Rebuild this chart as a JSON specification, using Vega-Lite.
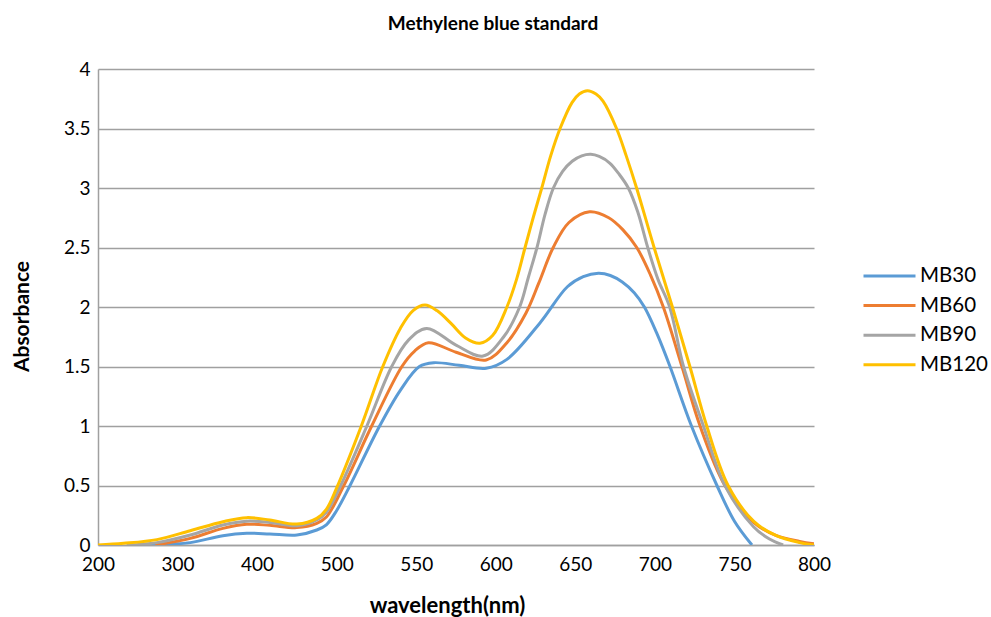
{
  "$schema": "https://vega.github.io/schema/vega-lite/v6.json",
  "width": 716,
  "height": 476,
  "autosize": {"type": "none"},
  "padding": {"left": 98, "top": 69, "right": 177, "bottom": 72},
  "background": "white",
  "config": {"font": "Lato", "view": {"stroke": null}},
  "title": {"text": "Methylene blue standard", "font": "Lato", "fontSize": 19, "fontWeight": "bold", "color": "#000000", "anchor": "middle", "dx": 37, "offset": 17, "baseline": "middle"},
  "data": {"values": [
    {"series":"MB30","wavelength":261,"absorbance":0},
    {"series":"MB30","wavelength":290,"absorbance":0.008},
    {"series":"MB30","wavelength":316,"absorbance":0.02},
    {"series":"MB30","wavelength":357,"absorbance":0.078},
    {"series":"MB30","wavelength":387,"absorbance":0.098},
    {"series":"MB30","wavelength":416,"absorbance":0.093},
    {"series":"MB30","wavelength":450,"absorbance":0.084},
    {"series":"MB30","wavelength":475,"absorbance":0.126},
    {"series":"MB30","wavelength":487,"absorbance":0.17},
    {"series":"MB30","wavelength":500,"absorbance":0.29},
    {"series":"MB30","wavelength":508.4,"absorbance":0.5},
    {"series":"MB30","wavelength":527,"absorbance":1.0},
    {"series":"MB30","wavelength":540,"absorbance":1.3},
    {"series":"MB30","wavelength":552,"absorbance":1.5},
    {"series":"MB30","wavelength":561,"absorbance":1.532},
    {"series":"MB30","wavelength":577,"absorbance":1.51},
    {"series":"MB30","wavelength":594,"absorbance":1.485},
    {"series":"MB30","wavelength":607,"absorbance":1.56},
    {"series":"MB30","wavelength":628,"absorbance":1.87},
    {"series":"MB30","wavelength":645,"absorbance":2.17},
    {"series":"MB30","wavelength":655,"absorbance":2.255},
    {"series":"MB30","wavelength":664.5,"absorbance":2.283},
    {"series":"MB30","wavelength":672,"absorbance":2.265},
    {"series":"MB30","wavelength":679.5,"absorbance":2.21},
    {"series":"MB30","wavelength":687,"absorbance":2.12},
    {"series":"MB30","wavelength":693.4,"absorbance":2.0},
    {"series":"MB30","wavelength":701.5,"absorbance":1.77},
    {"series":"MB30","wavelength":709.5,"absorbance":1.5},
    {"series":"MB30","wavelength":723,"absorbance":1.0},
    {"series":"MB30","wavelength":739,"absorbance":0.5},
    {"series":"MB30","wavelength":750,"absorbance":0.2},
    {"series":"MB30","wavelength":761,"absorbance":0},
    {"series":"MB60","wavelength":272,"absorbance":0},
    {"series":"MB60","wavelength":316,"absorbance":0.056},
    {"series":"MB60","wavelength":357,"absorbance":0.14},
    {"series":"MB60","wavelength":387,"absorbance":0.174},
    {"series":"MB60","wavelength":416,"absorbance":0.165},
    {"series":"MB60","wavelength":450,"absorbance":0.146},
    {"series":"MB60","wavelength":475,"absorbance":0.182},
    {"series":"MB60","wavelength":487,"absorbance":0.235},
    {"series":"MB60","wavelength":504.5,"absorbance":0.5},
    {"series":"MB60","wavelength":522,"absorbance":1.0},
    {"series":"MB60","wavelength":541,"absorbance":1.5},
    {"series":"MB60","wavelength":549,"absorbance":1.63},
    {"series":"MB60","wavelength":557.6,"absorbance":1.7},
    {"series":"MB60","wavelength":575,"absorbance":1.62},
    {"series":"MB60","wavelength":594,"absorbance":1.555},
    {"series":"MB60","wavelength":607,"absorbance":1.7},
    {"series":"MB60","wavelength":619,"absorbance":1.95},
    {"series":"MB60","wavelength":627,"absorbance":2.2},
    {"series":"MB60","wavelength":636.1,"absorbance":2.5},
    {"series":"MB60","wavelength":646,"absorbance":2.71},
    {"series":"MB60","wavelength":659,"absorbance":2.8},
    {"series":"MB60","wavelength":671,"absorbance":2.75},
    {"series":"MB60","wavelength":679.8,"absorbance":2.65},
    {"series":"MB60","wavelength":688.6,"absorbance":2.5},
    {"series":"MB60","wavelength":697.2,"absorbance":2.27},
    {"series":"MB60","wavelength":705.3,"absorbance":2.0},
    {"series":"MB60","wavelength":717,"absorbance":1.5},
    {"series":"MB60","wavelength":728.4,"absorbance":1.0},
    {"series":"MB60","wavelength":744,"absorbance":0.5},
    {"series":"MB60","wavelength":762,"absorbance":0.19},
    {"series":"MB60","wavelength":776,"absorbance":0.08},
    {"series":"MB60","wavelength":791,"absorbance":0.03},
    {"series":"MB60","wavelength":800,"absorbance":0.01},
    {"series":"MB90","wavelength":236,"absorbance":0},
    {"series":"MB90","wavelength":274,"absorbance":0.02},
    {"series":"MB90","wavelength":316,"absorbance":0.084},
    {"series":"MB90","wavelength":357,"absorbance":0.168},
    {"series":"MB90","wavelength":387,"absorbance":0.2},
    {"series":"MB90","wavelength":416,"absorbance":0.19},
    {"series":"MB90","wavelength":450,"absorbance":0.162},
    {"series":"MB90","wavelength":475,"absorbance":0.21},
    {"series":"MB90","wavelength":487,"absorbance":0.275},
    {"series":"MB90","wavelength":502.5,"absorbance":0.5},
    {"series":"MB90","wavelength":519,"absorbance":1.0},
    {"series":"MB90","wavelength":534.6,"absorbance":1.5},
    {"series":"MB90","wavelength":545,"absorbance":1.72},
    {"series":"MB90","wavelength":556.6,"absorbance":1.82},
    {"series":"MB90","wavelength":575,"absorbance":1.68},
    {"series":"MB90","wavelength":592,"absorbance":1.588},
    {"series":"MB90","wavelength":605,"absorbance":1.75},
    {"series":"MB90","wavelength":615,"absorbance":2.0},
    {"series":"MB90","wavelength":620.5,"absorbance":2.25},
    {"series":"MB90","wavelength":625.9,"absorbance":2.5},
    {"series":"MB90","wavelength":631,"absorbance":2.78},
    {"series":"MB90","wavelength":636.2,"absorbance":3.0},
    {"series":"MB90","wavelength":642,"absorbance":3.14},
    {"series":"MB90","wavelength":648,"absorbance":3.225},
    {"series":"MB90","wavelength":654,"absorbance":3.27},
    {"series":"MB90","wavelength":659.7,"absorbance":3.283},
    {"series":"MB90","wavelength":665,"absorbance":3.265},
    {"series":"MB90","wavelength":671.6,"absorbance":3.21},
    {"series":"MB90","wavelength":677.3,"absorbance":3.12},
    {"series":"MB90","wavelength":683.3,"absorbance":3.0},
    {"series":"MB90","wavelength":689.2,"absorbance":2.8},
    {"series":"MB90","wavelength":695.5,"absorbance":2.5},
    {"series":"MB90","wavelength":702,"absorbance":2.23},
    {"series":"MB90","wavelength":709.3,"absorbance":2.0},
    {"series":"MB90","wavelength":718,"absorbance":1.5},
    {"series":"MB90","wavelength":730.5,"absorbance":1.0},
    {"series":"MB90","wavelength":744,"absorbance":0.5},
    {"series":"MB90","wavelength":762,"absorbance":0.154},
    {"series":"MB90","wavelength":772,"absorbance":0.05},
    {"series":"MB90","wavelength":780.6,"absorbance":0},
    {"series":"MB120","wavelength":200,"absorbance":0},
    {"series":"MB120","wavelength":232,"absorbance":0.014},
    {"series":"MB120","wavelength":274,"absorbance":0.045},
    {"series":"MB120","wavelength":316,"absorbance":0.12},
    {"series":"MB120","wavelength":357,"absorbance":0.196},
    {"series":"MB120","wavelength":387,"absorbance":0.23},
    {"series":"MB120","wavelength":416,"absorbance":0.21},
    {"series":"MB120","wavelength":450,"absorbance":0.176},
    {"series":"MB120","wavelength":475,"absorbance":0.224},
    {"series":"MB120","wavelength":487,"absorbance":0.3},
    {"series":"MB120","wavelength":500,"absorbance":0.48},
    {"series":"MB120","wavelength":515.5,"absorbance":1.0},
    {"series":"MB120","wavelength":529,"absorbance":1.5},
    {"series":"MB120","wavelength":540,"absorbance":1.82},
    {"series":"MB120","wavelength":548,"absorbance":1.97},
    {"series":"MB120","wavelength":555.5,"absorbance":2.017},
    {"series":"MB120","wavelength":563,"absorbance":1.97},
    {"series":"MB120","wavelength":572,"absorbance":1.86},
    {"series":"MB120","wavelength":581,"absorbance":1.74},
    {"series":"MB120","wavelength":590,"absorbance":1.695},
    {"series":"MB120","wavelength":598,"absorbance":1.76},
    {"series":"MB120","wavelength":607,"absorbance":2.0},
    {"series":"MB120","wavelength":613,"absorbance":2.23},
    {"series":"MB120","wavelength":618.4,"absorbance":2.5},
    {"series":"MB120","wavelength":623.5,"absorbance":2.75},
    {"series":"MB120","wavelength":628.9,"absorbance":3.0},
    {"series":"MB120","wavelength":634.5,"absorbance":3.27},
    {"series":"MB120","wavelength":640.4,"absorbance":3.5},
    {"series":"MB120","wavelength":648,"absorbance":3.72},
    {"series":"MB120","wavelength":652.5,"absorbance":3.79},
    {"series":"MB120","wavelength":657.6,"absorbance":3.818},
    {"series":"MB120","wavelength":663,"absorbance":3.79},
    {"series":"MB120","wavelength":667.4,"absorbance":3.73},
    {"series":"MB120","wavelength":675.9,"absorbance":3.5},
    {"series":"MB120","wavelength":682,"absorbance":3.27},
    {"series":"MB120","wavelength":688.5,"absorbance":3.0},
    {"series":"MB120","wavelength":699.5,"absorbance":2.5},
    {"series":"MB120","wavelength":711,"absorbance":2.0},
    {"series":"MB120","wavelength":722,"absorbance":1.5},
    {"series":"MB120","wavelength":732.6,"absorbance":1.0},
    {"series":"MB120","wavelength":746,"absorbance":0.5},
    {"series":"MB120","wavelength":762,"absorbance":0.2},
    {"series":"MB120","wavelength":776,"absorbance":0.08},
    {"series":"MB120","wavelength":791,"absorbance":0.02},
    {"series":"MB120","wavelength":800,"absorbance":0}
  ]},
  "mark": {"type": "line", "interpolate": "catmull-rom", "strokeWidth": 3, "clip": true},
  "encoding": {
    "x": {
      "field": "wavelength", "type": "quantitative",
      "scale": {"type": "linear", "domain": [200, 500, 800], "range": [0, 238.67, 716], "nice": false, "zero": false},
      "axis": {
        "values": [200, 300, 400, 500, 550, 600, 650, 700, 750, 800],
        "title": "wavelength(nm)", "titleFont": "Lato", "titleFontSize": 22, "titleFontWeight": "bold", "titleColor": "#000000",
        "titleX": 349, "titleY": 60, "titleAlign": "center", "titleBaseline": "middle",
        "labelFont": "Lato", "labelFontSize": 19, "labelColor": "#000000", "labelPadding": 10,
        "ticks": false, "grid": false, "domainColor": "#a0a0a0", "domainWidth": 1.5, "labelFlush": false, "labelOverlap": false
      }
    },
    "y": {
      "field": "absorbance", "type": "quantitative",
      "scale": {"domain": [0, 4], "nice": false},
      "axis": {
        "values": [0, 0.5, 1, 1.5, 2, 2.5, 3, 3.5, 4],
        "format": ".1~f",
        "title": "Absorbance", "titleFont": "Lato", "titleFontSize": 21, "titleFontWeight": "bold", "titleColor": "#000000",
        "titleX": -76, "titleY": 247, "titleAngle": -90, "titleAlign": "center", "titleBaseline": "middle",
        "labelFont": "Lato", "labelFontSize": 19, "labelColor": "#000000", "labelPadding": 8,
        "ticks": false, "grid": true, "gridColor": "#a0a0a0", "gridWidth": 1.5,
        "domainColor": "#a0a0a0", "domainWidth": 1.5, "labelFlush": false, "labelOverlap": false
      }
    },
    "color": {
      "field": "series", "type": "nominal",
      "scale": {"domain": ["MB30", "MB60", "MB90", "MB120"], "range": ["#5B9BD5", "#ED7D31", "#A5A5A5", "#FFC000"]},
      "legend": {
        "title": null, "orient": "none", "legendX": 764, "legendY": 196,
        "symbolType": "stroke", "symbolSize": 2704, "symbolStrokeWidth": 3,
        "labelFont": "Lato", "labelFontSize": 20.5, "labelColor": "#000000", "labelOffset": 3,
        "clipHeight": 22, "rowPadding": 7.6
      }
    }
  }
}
